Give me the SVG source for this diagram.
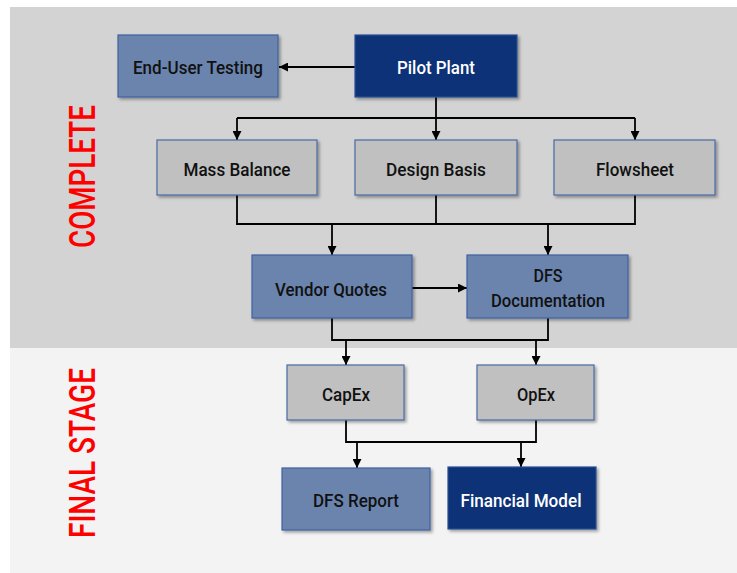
<svg xmlns="http://www.w3.org/2000/svg" width="737" height="573" viewBox="0 0 737 573">
<style>
.lb{fill:#6a84ae;stroke:#3f61a0;stroke-width:1.2}
.db{fill:#0d3378;stroke:#2b4f92;stroke-width:1.2}
.gb{fill:#bfc0bf;stroke:#4a6aa5;stroke-width:1.2}
.t{font-family:Roboto,"Liberation Sans",sans-serif;font-weight:500;font-size:19px;text-anchor:middle}
.tk{fill:#111}
.tw{fill:#fff}
.side{font-family:Roboto,"Liberation Sans",sans-serif;font-weight:500;font-size:37px;fill:#ff0000;text-anchor:middle}
.c{fill:none;stroke:#000;stroke-width:1.8}
</style>
<defs>
<filter id="sh" x="-10%" y="-10%" width="130%" height="140%">
<feDropShadow dx="2" dy="2" stdDeviation="1.5" flood-color="#000" flood-opacity="0.35"/>
</filter>
<marker id="ah" viewBox="0 0 10 10" refX="10" refY="5" markerWidth="10" markerHeight="9" markerUnits="userSpaceOnUse" orient="auto">
<path d="M0,0 L10,5 L0,10 Z" fill="#000"/>
</marker>
</defs>
<rect x="0" y="0" width="737" height="573" fill="#ffffff"/>
<rect x="10" y="7" width="727" height="341" fill="#d3d3d3"/>
<rect x="10" y="348" width="727" height="225" fill="#f3f3f3"/>
<text class="side" transform="translate(95,176.5) rotate(-90)" textLength="143" lengthAdjust="spacingAndGlyphs">COMPLETE</text>
<text class="side" transform="translate(95,453) rotate(-90)" textLength="170" lengthAdjust="spacingAndGlyphs">FINAL STAGE</text>
<g id="connectors">
<path class="c" d="M355,67 H279" marker-end="url(#ah)"/>
<path class="c" d="M436,97 V118"/>
<path class="c" d="M237,118 H635"/>
<path class="c" d="M237,118 V140" marker-end="url(#ah)"/>
<path class="c" d="M436,118 V140" marker-end="url(#ah)"/>
<path class="c" d="M635,118 V140" marker-end="url(#ah)"/>
<path class="c" d="M237,195 V224 H635 V195"/>
<path class="c" d="M436,195 V224"/>
<path class="c" d="M332,224 V255" marker-end="url(#ah)"/>
<path class="c" d="M548,224 V255" marker-end="url(#ah)"/>
<path class="c" d="M412,288 H467" marker-end="url(#ah)"/>
<path class="c" d="M332,318 V340 H548 V318"/>
<path class="c" d="M346,340 V365" marker-end="url(#ah)"/>
<path class="c" d="M536,340 V365" marker-end="url(#ah)"/>
<path class="c" d="M346,420 V442 H536 V420"/>
<path class="c" d="M357,442 V468" marker-end="url(#ah)"/>
<path class="c" d="M521,442 V467" marker-end="url(#ah)"/>
</g>
<g id="end-user-testing">
<rect class="lb" x="118" y="35" width="160" height="62" filter="url(#sh)"/>
<text class="t tk" x="198" y="74" textLength="130" lengthAdjust="spacingAndGlyphs">End-User Testing</text>
</g>
<g id="pilot-plant">
<rect class="db" x="355" y="35" width="162" height="62" filter="url(#sh)"/>
<text class="t tw" x="436" y="74" textLength="78" lengthAdjust="spacingAndGlyphs">Pilot Plant</text>
</g>
<g id="mass-balance">
<rect class="gb" x="157" y="140" width="160" height="55" filter="url(#sh)"/>
<text class="t tk" x="237" y="176" textLength="107" lengthAdjust="spacingAndGlyphs">Mass Balance</text>
</g>
<g id="design-basis">
<rect class="gb" x="355" y="140" width="162" height="55" filter="url(#sh)"/>
<text class="t tk" x="436" y="176" textLength="100" lengthAdjust="spacingAndGlyphs">Design Basis</text>
</g>
<g id="flowsheet">
<rect class="gb" x="554" y="140" width="161" height="55" filter="url(#sh)"/>
<text class="t tk" x="635" y="176" textLength="78" lengthAdjust="spacingAndGlyphs">Flowsheet</text>
</g>
<g id="vendor-quotes">
<rect class="lb" x="252" y="255" width="160" height="63" filter="url(#sh)"/>
<text class="t tk" x="331" y="296" textLength="112" lengthAdjust="spacingAndGlyphs">Vendor Quotes</text>
</g>
<g id="dfs-documentation">
<rect class="lb" x="467" y="255" width="161" height="63" filter="url(#sh)"/>
<text class="t tk" x="548" y="282" textLength="29" lengthAdjust="spacingAndGlyphs">DFS</text>
<text class="t tk" x="548" y="307" textLength="114" lengthAdjust="spacingAndGlyphs">Documentation</text>
</g>
<g id="capex">
<rect class="gb" x="287" y="365" width="117" height="55" filter="url(#sh)"/>
<text class="t tk" x="346" y="401" textLength="48" lengthAdjust="spacingAndGlyphs">CapEx</text>
</g>
<g id="opex">
<rect class="gb" x="477" y="365" width="117" height="55" filter="url(#sh)"/>
<text class="t tk" x="536" y="401" textLength="38" lengthAdjust="spacingAndGlyphs">OpEx</text>
</g>
<g id="dfs-report">
<rect class="lb" x="282" y="468" width="148" height="62" filter="url(#sh)"/>
<text class="t tk" x="356" y="507" textLength="86" lengthAdjust="spacingAndGlyphs">DFS Report</text>
</g>
<g id="financial-model">
<rect class="db" x="448" y="467" width="148" height="62" filter="url(#sh)"/>
<text class="t tw" x="521" y="507" textLength="121" lengthAdjust="spacingAndGlyphs">Financial Model</text>
</g>
</svg>
